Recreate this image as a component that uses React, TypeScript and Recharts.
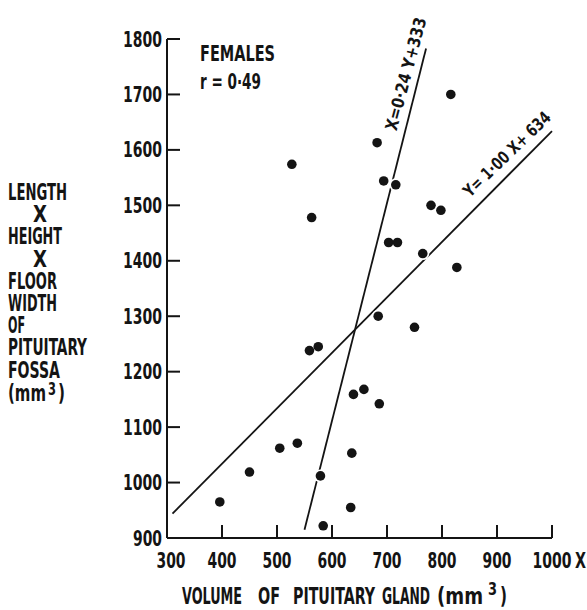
import React from 'react'
import { ReferenceLine, Scatter, ScatterChart, XAxis, YAxis } from 'recharts'

// pituitary gland volume (mm3) vs fossa size (mm3), females
const volume = [816, 682, 527, 694, 716, 563, 780, 798, 703, 719, 765, 827, 684, 750, 559, 575, 639, 658, 686, 537, 636, 579, 634, 584, 396, 450, 505]
const fossa = [1700, 1613, 1574, 1544, 1537, 1478, 1500, 1491, 1433, 1433, 1413, 1388, 1300, 1280, 1238, 1245, 1159, 1168, 1142, 1071, 1053, 1012, 955, 922, 965, 1019, 1062]

const xTicks = [300, 400, 500, 600, 700, 800, 900, 1000]
const yTicks = [900, 1000, 1100, 1200, 1300, 1400, 1500, 1600, 1700, 1800]

// regression lines, ends as drawn
const fitYonX = [{ x: 310, y: 944 }, { x: 1000, y: 1634 }] // Y = 1.00X + 634
const fitXonY = [{ x: 550, y: 915 }, { x: 771, y: 1783 }] // X = 0.24Y + 333

const yTitle = ['LENGTH', 'X', 'HEIGHT', 'X', 'FLOOR', 'WIDTH', 'OF', 'PITUITARY', 'FOSSA']
const xTitle = ['VOLUME', 'OF', 'PITUITARY', 'GLAND', '(mm']

const points = volume.map((v, i) => ({ x: v, y: fossa[i] }))

const INK = '#141414'
const FONT = "'Liberation Sans Narrow', 'DejaVu Sans Condensed', 'Liberation Sans', sans-serif"

const Word = ({ x, y, w, size = 21, children, rotate, anchor }: any) => (
    <text
        x={x}
        y={y}
        fontSize={size}
        fontFamily={FONT}
        fontWeight={700}
        fill={INK}
        textAnchor={anchor}
        textLength={w}
        lengthAdjust="spacingAndGlyphs"
        transform={rotate ? `rotate(${rotate} ${x} ${y})` : undefined}
    >
        {children}
    </text>
)

// digits in the original are about 10px wide
const labelWidth = (v: number) => String(v).length * 10 - 1

const XTick = ({ x, y, payload }: any) => (
    <g>
        <line x1={x} y1={y} x2={x} y2={y - 13} stroke={INK} strokeWidth={2} />
        <Word x={payload.value === 300 ? x + 4 : x} y={y + 30} w={labelWidth(payload.value)} anchor="middle">
            {payload.value}
        </Word>
    </g>
)

const YTick = ({ x, y, payload }: any) => (
    <g>
        <line x1={x} y1={y} x2={x + 13} y2={y} stroke={INK} strokeWidth={2} />
        <Word x={x - 5} y={y + 7.5} w={labelWidth(payload.value)} anchor="end">
            {payload.value}
        </Word>
    </g>
)

const yTitleX = [8, 33, 8, 33, 8, 8, 8, 8, 8]
const yTitleW = [59, 14, 54, 14, 49, 49, 17, 79, 52]
const xTitleX = [182, 258, 293, 382, 437]
const xTitleW = [60, 22, 82, 48, 46]

export default function App() {
    return (
        <div style={{ position: 'absolute', left: 0, top: 0, width: 587, height: 610, background: '#fff' }}>
            <ScatterChart width={587} height={610} margin={{ top: 39, right: 35, left: 107, bottom: 42 }}>
                <XAxis
                    type="number"
                    dataKey="x"
                    domain={[300, 1000]}
                    ticks={xTicks}
                    interval={0}
                    height={30}
                    tickSize={0}
                    tickMargin={0}
                    tick={<XTick />}
                    axisLine={{ stroke: INK, strokeWidth: 2 }}
                />
                <YAxis
                    type="number"
                    dataKey="y"
                    domain={[900, 1800]}
                    ticks={yTicks}
                    interval={0}
                    width={60}
                    tickSize={0}
                    tickMargin={0}
                    tick={<YTick />}
                    axisLine={{ stroke: INK, strokeWidth: 2 }}
                />
                <ReferenceLine segment={fitYonX} stroke={INK} strokeWidth={1.8} />
                <ReferenceLine segment={fitXonY} stroke={INK} strokeWidth={1.8} />
                <Scatter
                    data={points}
                    isAnimationActive={false}
                    shape={(p: any) => <circle cx={p.cx} cy={p.cy} r={6.5} fill="#fff" />}
                />
                <Scatter
                    data={points}
                    isAnimationActive={false}
                    shape={(p: any) => <circle cx={p.cx} cy={p.cy} r={4.8} fill={INK} />}
                />
            </ScatterChart>
            <svg width={587} height={610} style={{ position: 'absolute', left: 0, top: 0, pointerEvents: 'none' }}>
                {yTitle.map((t, i) => (
                    <Word key={i} x={yTitleX[i]} y={200 + 22.2 * i} w={yTitleW[i]} size={23}>{t}</Word>
                ))}
                <Word x={8} y={401} w={38} size={23}>(mm</Word>
                <Word x={48} y={395} w={8} size={18}>3</Word>
                <Word x={58} y={401} w={7} size={23}>)</Word>

                {xTitle.map((t, i) => (
                    <Word key={i} x={xTitleX[i]} y={604} w={xTitleW[i]} size={23}>{t}</Word>
                ))}
                <Word x={488} y={595} w={9} size={18}>3</Word>
                <Word x={500} y={604} w={7} size={23}>)</Word>

                <Word x={575} y={568} w={11} size={21}>X</Word>
                <Word x={200} y={61} w={75} size={21}>FEMALES</Word>
                <Word x={200} y={89} w={61} size={21}>r = 0·49</Word>

                <Word x={396.5} y={131.5} w={116} size={17} rotate={-75}>X=0·24 Y+333</Word>
                <Word x={470} y={198} w={114} size={17} rotate={-44}>Y= 1·00 X+ 634</Word>
            </svg>
        </div>
    )
}
